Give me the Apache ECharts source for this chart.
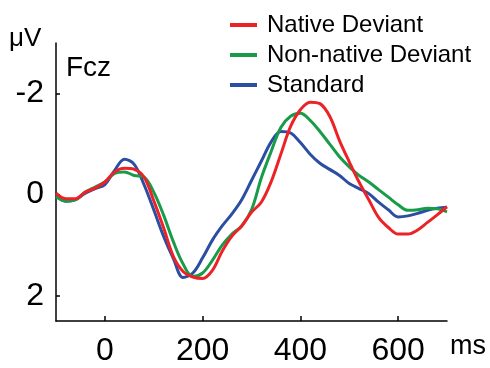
<!DOCTYPE html>
<html>
<head>
<meta charset="utf-8">
<script src="https://cdn.jsdelivr.net/npm/echarts@6/dist/echarts.min.js"></script>
<style>
  html, body { margin: 0; padding: 0; background: #fff; }
  #chart { width: 490px; height: 368px; }
</style>
</head>
<body>
<div id="chart"></div>
<script>
// time points (ms)
const times = [-100, -80, -60, -40, -20, 0, 20, 40, 60, 80, 100, 120, 140, 160, 180, 200,
  220, 240, 260, 280, 300, 320, 340, 360, 380, 400, 420, 440, 460, 480, 500,
  520, 540, 560, 580, 600, 620, 640, 660, 680, 700];

// amplitudes (µV)
const nativeDeviant = [-0.03, 0.08, 0.08, -0.05, -0.13, -0.25, -0.45, -0.52, -0.5, -0.35, 0.12,
  0.65, 1.22, 1.52, 1.63, 1.66, 1.5, 1.12, 0.82, 0.62, 0.35, 0.15, -0.25, -0.8, -1.35, -1.68,
  -1.83, -1.8, -1.55, -1.07, -0.65, -0.25, 0.1, 0.45, 0.65, 0.78, 0.78, 0.7, 0.55, 0.4, 0.24];
const nonNativeDeviant = [0.04, 0.13, 0.1, -0.05, -0.15, -0.25, -0.42, -0.45, -0.38, -0.35, -0.05,
  0.4, 0.93, 1.37, 1.62, 1.55, 1.3, 1.0, 0.78, 0.62, 0.3, -0.33, -0.85, -1.33, -1.55, -1.61,
  -1.47, -1.25, -1.0, -0.75, -0.55, -0.38, -0.25, -0.1, 0.05, 0.2, 0.31, 0.3, 0.27, 0.28, 0.34];
const standard = [0.02, 0.13, 0.1, -0.03, -0.12, -0.2, -0.48, -0.7, -0.6, -0.2, 0.3,
  0.82, 1.26, 1.64, 1.55, 1.25, 0.9, 0.62, 0.38, 0.1, -0.28, -0.66, -1.04, -1.25, -1.22, -1.03,
  -0.8, -0.62, -0.5, -0.38, -0.22, -0.12, -0.02, 0.15, 0.3, 0.44, 0.42, 0.37, 0.31, 0.27, 0.25];

const xTicks = [0, 200, 400, 600];
const yTicks = [-2, 0, 2];

const FONT = 'Liberation Sans, Arial, sans-serif';

const pairs = vals => times.map((t, i) => [t, vals[i]]);

const chart = echarts.init(document.getElementById('chart'), null, { renderer: 'canvas' });

const lineSeries = (name, vals, color) => ({
  name: name,
  type: 'line',
  smooth: 0.35,
  showSymbol: false,
  symbol: 'none',
  data: pairs(vals),
  lineStyle: { color: color, width: 3 },
  itemStyle: { color: color }
});

chart.setOption({
  animation: false,
  backgroundColor: '#fff',
  grid: { left: 56, right: 43, top: 43, bottom: 47 },
  legend: {
    orient: 'vertical',
    left: 225,
    top: 8,
    icon: 'rect',
    itemWidth: 27,
    itemHeight: 4,
    itemGap: 6,
    textStyle: { fontFamily: FONT, fontSize: 24, color: '#000', padding: [0, 0, 0, 5] },
    data: ['Native Deviant', 'Non-native Deviant', 'Standard']
  },
  xAxis: {
    type: 'value',
    min: -100,
    max: 700,
    splitLine: { show: false },
    axisLine: { onZero: false, lineStyle: { color: '#000', width: 1.5 } },
    axisTick: { inside: true, length: 5, lineStyle: { color: '#000', width: 1.5 }, customValues: xTicks },
    axisLabel: { customValues: xTicks, margin: 14, fontFamily: FONT, fontSize: 32, color: '#000' }
  },
  yAxis: {
    type: 'value',
    inverse: true,
    min: -3,
    max: 2.5,
    splitLine: { show: false },
    axisLine: { show: true, onZero: false, lineStyle: { color: '#000', width: 1.5 } },
    axisTick: { show: true, inside: true, length: 4, lineStyle: { color: '#000', width: 1.5 }, customValues: yTicks },
    axisLabel: { customValues: yTicks, margin: 12, fontFamily: FONT, fontSize: 32, color: '#000' }
  },
  graphic: [
    { type: 'text', left: 9, top: 26, style: { text: 'μV', font: '26px ' + FONT, fill: '#000' } },
    { type: 'text', left: 66, top: 54, style: { text: 'Fcz', font: '28px ' + FONT, fill: '#000' } },
    { type: 'text', left: 450, top: 333, style: { text: 'ms', font: '27px ' + FONT, fill: '#000' } }
  ],
  series: [
    lineSeries('Standard', standard, '#2b4ea2'),
    lineSeries('Non-native Deviant', nonNativeDeviant, '#1a9b4a'),
    lineSeries('Native Deviant', nativeDeviant, '#ec2227')
  ]
});
</script>
</body>
</html>
